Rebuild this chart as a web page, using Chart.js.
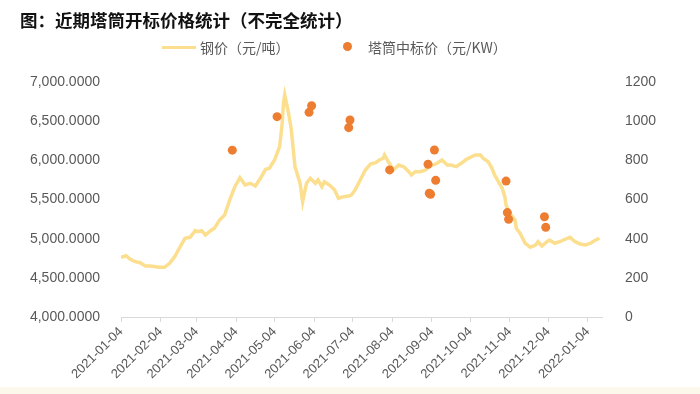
<!DOCTYPE html>
<html>
<head>
<meta charset="utf-8">
<script src="https://cdn.jsdelivr.net/npm/chart.js@4/dist/chart.umd.min.js"></script>
<style>
  html, body { margin: 0; padding: 0; background: #ffffff; }
  #wrap { position: relative; width: 700px; height: 394px; overflow: hidden; background: #ffffff; }
  #title { position: absolute; left: 20px; top: 8px; font-family: "Noto Sans CJK SC", sans-serif; font-weight: bold; font-size: 17.5px; color: #111; white-space: nowrap; line-height: 24px; }
  #legend { position: absolute; left: 0; top: 36px; width: 700px; height: 22px; font-family: "Noto Sans CJK SC", sans-serif; font-size: 14px; color: #595959; }
  .lg { position: absolute; top: 0; line-height: 22px; white-space: nowrap; }
  .swLine { position: absolute; top: 10px; height: 3px; background: #FCDF8E; }
  .swDot { position: absolute; width: 9px; height: 9px; border-radius: 50%; background: #ED7D31; }
  #band { position: absolute; left: 0; top: 387px; width: 700px; height: 7px; background: #FCF8EC; }
  canvas { position: absolute; left: 0; top: 0; }
</style>
</head>
<body>
<div id="wrap">
  <canvas id="c" width="700" height="394"></canvas>
  <div id="title">图：近期塔筒开标价格统计（不完全统计）</div>
  <div id="legend">
    <div class="swLine" style="left:162px;width:34px;"></div>
    <div class="lg" style="left:200px;">钢价（元/吨）</div>
    <div class="swDot" style="left:343px;top:6px;"></div>
    <div class="lg" style="left:368px;">塔筒中标价（元/KW）</div>
  </div>
  <div id="band"></div>
</div>
<script>
// ---- data ----
const startDate = '2021-01-04';
const xTickLabels = ['2021-01-04','2021-02-04','2021-03-04','2021-04-04','2021-05-04','2021-06-04','2021-07-04','2021-08-04','2021-09-04','2021-10-04','2021-11-04','2021-12-04','2022-01-04'];

// steel price: days after 2021-01-04, and price (元/吨)
const steelDays = [0,4,7,11,15,19,23,27,30,34,38,42,46,50,54,58,60,63,66,70,73,77,81,85,89,93,97,101,105,109,113,116,120,124,126,127,128,131,133,136,140,142,145,148,152,154,157,159,163,167,170,174,178,180,183,187,191,195,199,202,205,206,209,213,217,221,225,227,230,234,238,241,247,251,255,258,262,266,270,274,277,281,283,287,290,292,295,298,300,301,303,305,308,309,312,316,320,324,326,329,333,335,339,343,347,351,355,359,363,367,370,374];
const steelPrices = [4762,4782,4740,4706,4693,4651,4651,4642,4634,4634,4685,4770,4890,5005,5017,5102,5089,5102,5047,5102,5132,5238,5302,5494,5663,5778,5685,5707,5672,5771,5885,5898,6004,6174,6473,6728,6834,6600,6409,5919,5707,5472,5707,5771,5707,5749,5663,5727,5685,5621,5515,5536,5545,5557,5621,5749,5876,5953,5970,6004,6026,6068,5982,5876,5940,5919,5855,5813,5855,5855,5876,5919,5962,6004,5940,5940,5919,5962,6013,6046,6068,6068,6026,5982,5898,5813,5727,5643,5536,5430,5344,5302,5238,5132,5068,4941,4890,4919,4961,4906,4961,4983,4941,4961,4992,5017,4961,4932,4919,4941,4974,5005];

// tower bid price: days after 2021-01-04, and price (元/KW)
const towerDays = [87,122,147,149,178,179,210,240,241,242,245,246,301,302,303,331,332];
const towerPrices = [852,1023,1045,1079,967,1006,751,780,632,627,853,698,694,533,499,512,458];

const leftTicks = [4000,4500,5000,5500,6000,6500,7000];
const rightTicks = [0,200,400,600,800,1000,1200];

// ---- build ----
const DAY = 86400000;
const t0 = Date.parse(startDate + 'T00:00:00Z');
const xTickDays = xTickLabels.map(s => Math.round((Date.parse(s + 'T00:00:00Z') - t0) / DAY));
const steelData = steelDays.map((d, i) => ({ x: d, y: steelPrices[i] }));
const towerData = towerDays.map((d, i) => ({ x: d, y: towerPrices[i] }));

const tickFont = { family: '"Liberation Sans", Arial, sans-serif', size: 14 };
const grey = '#595959';

new Chart(document.getElementById('c'), {
  type: 'line',
  data: {
    datasets: [
      {
        type: 'scatter',
        label: '塔筒中标价（元/KW）',
        data: towerData,
        yAxisID: 'yR',
        backgroundColor: '#ED7D31',
        borderColor: '#ED7D31',
        pointRadius: 4.5,
        pointBorderWidth: 0,
        order: 0
      },
      {
        type: 'line',
        label: '钢价（元/吨）',
        data: steelData,
        yAxisID: 'yL',
        borderColor: '#FCDF8E',
        borderWidth: 3.5,
        pointRadius: 0,
        tension: 0,
        fill: false,
        order: 1
      }
    ]
  },
  options: {
    responsive: false,
    animation: false,
    events: [],
    layout: { padding: { top: 82, left: 0, right: 0, bottom: 0 } },
    plugins: { legend: { display: false }, title: { display: false }, tooltip: { enabled: false } },
    scales: {
      x: {
        type: 'linear',
        min: 0,
        max: 376,
        afterBuildTicks: s => { s.ticks = xTickDays.map(v => ({ value: v })); },
        afterFit: s => { s.height = 77; },
        grid: { drawOnChartArea: false, drawTicks: true, tickLength: 5, color: '#d9d9d9' },
        border: { display: true, color: '#d9d9d9' },
        ticks: {
          autoSkip: false,
          minRotation: 45,
          maxRotation: 45,
          padding: 2,
          color: grey,
          font: { family: '"Liberation Sans", Arial, sans-serif', size: 13 },
          callback: v => { const i = xTickDays.indexOf(v); return i >= 0 ? xTickLabels[i] : ''; }
        }
      },
      yL: {
        position: 'left',
        min: 4000,
        max: 7000,
        afterBuildTicks: s => { s.ticks = leftTicks.map(v => ({ value: v })); },
        afterFit: s => { s.width = 121; },
        grid: { display: false },
        border: { display: false },
        ticks: {
          padding: 13,
          color: grey,
          font: tickFont,
          callback: v => v.toLocaleString('en-US', { minimumFractionDigits: 4, maximumFractionDigits: 4 })
        }
      },
      yR: {
        position: 'right',
        min: 0,
        max: 1200,
        afterBuildTicks: s => { s.ticks = rightTicks.map(v => ({ value: v })); },
        afterFit: s => { s.width = 98; },
        grid: { display: false },
        border: { display: false },
        ticks: { padding: 15, color: grey, font: tickFont, callback: v => String(v) }
      }
    }
  }
});
</script>
</body>
</html>
